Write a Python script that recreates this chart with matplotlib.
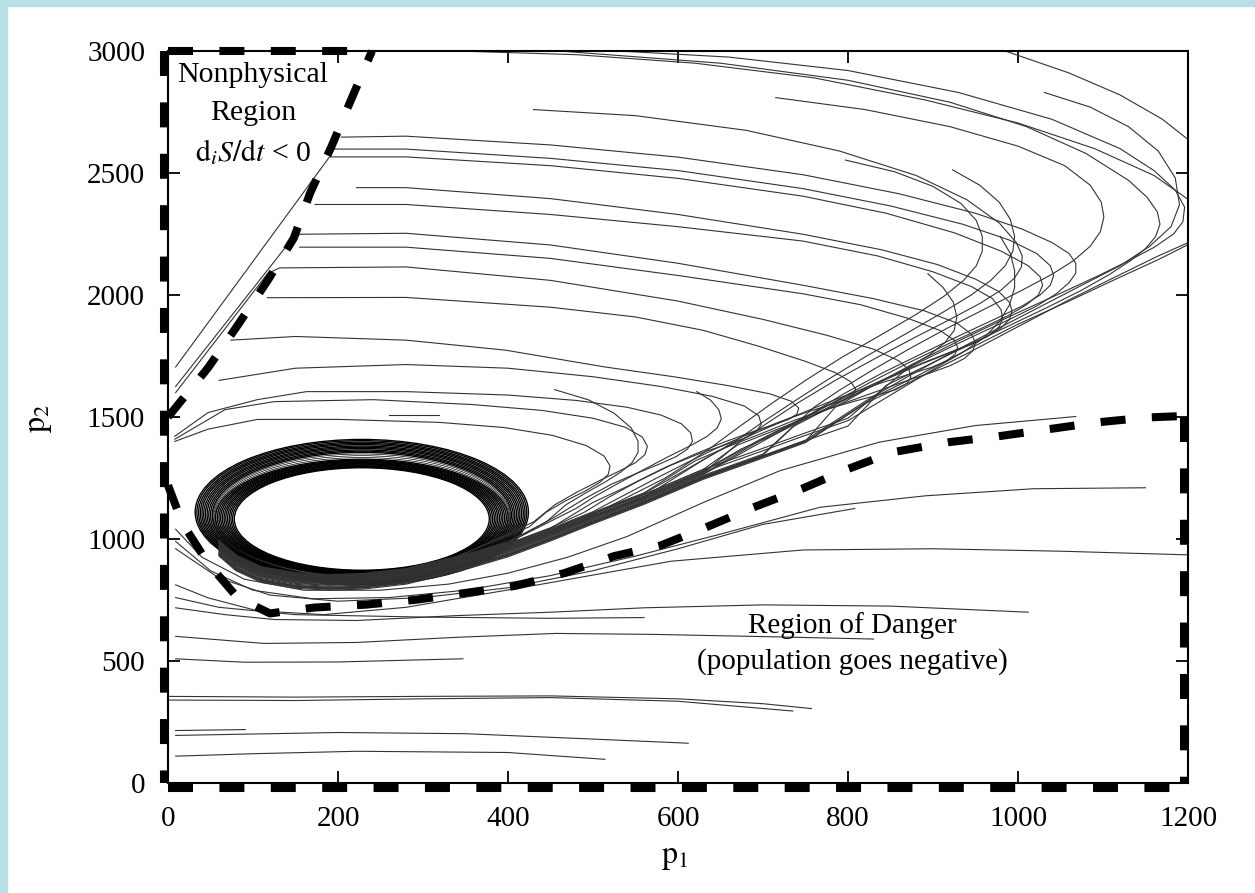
import matplotlib.pyplot as plt
import matplotlib.transforms as mtransforms
from matplotlib.lines import Line2D
from matplotlib.patches import Ellipse, Rectangle

plt.rcParams['font.family'] = ['Liberation Serif', 'DejaVu Serif']
plt.rcParams['mathtext.fontset'] = 'stix'

x_ticks = [0, 200, 400, 600, 800, 1000, 1200]
y_ticks = [0, 500, 1000, 1500, 2000, 2500, 3000]

# thick dashed boundaries
nonphys_x = [0, 47, 82, 117, 148, 167, 193, 214, 240]
nonphys_y = [1500, 1701, 1876, 2058, 2233, 2416, 2614, 2789, 3000]
danger_x = [0, 17, 47, 82, 120, 172, 233, 292, 350, 409, 467, 525, 580, 638, 689,
            746, 800, 853, 919, 977, 1034, 1093, 1152, 1200]
danger_y = [1220, 1064, 901, 759, 695, 719, 731, 751, 779, 808, 861, 930, 974, 1055, 1130,
            1206, 1287, 1356, 1397, 1421, 1449, 1478, 1498, 1505]

# common path of the returning trajectories (the funnel into the cycle)
funnel_x = [1200, 1100, 1000, 900, 800, 750, 700, 630, 560, 500, 450, 400, 340, 280, 230, 190, 150, 110, 80, 60]
funnel_y = [2100, 1910, 1740, 1600, 1485, 1425, 1362, 1275, 1172, 1092, 1022, 957, 895, 845, 825, 820, 828, 852, 900, 960]

# limit cycle rings
cycle_cx = [228] * 26
cycle_cy = [1082, 1082, 1083, 1083, 1084, 1085, 1085, 1086, 1087, 1087, 1088, 1089,
            1091, 1093, 1095,
            1097, 1098, 1099, 1101, 1102, 1103, 1105, 1106, 1107, 1109, 1110]
cycle_w = [300, 304, 308, 312, 316, 320, 324, 328, 332, 336, 340, 344,
           346, 348, 350,
           352, 356, 360, 364, 368, 372, 376, 380, 384, 388, 392]
cycle_h = [420, 425, 430, 435, 440, 445, 450, 455, 460, 465, 470, 476,
           486, 497, 507,
           516, 524, 532, 540, 548, 556, 564, 572, 580, 588, 596]
cycle_lw = [1.0] * 12 + [0.5] * 3 + [1.0] * 11

# trajectories that swing out and come back through the funnel
t0 = [(985, 3000), (1060, 2910), (1120, 2820), (1170, 2720), (1210, 2610), (1240, 2490), (1250, 2380),
      (1238, 2290), (1210, 2230), (1165, 2160), (1115, 2075), (1060, 1980), (1000, 1870), (940, 1760),
      (880, 1655), (820, 1555)]
t1 = [(340, 3000), (480, 2985), (620, 2950), (760, 2890), (890, 2800), (1000, 2705), (1090, 2600),
      (1160, 2490), (1205, 2380), (1220, 2290), (1205, 2215), (1165, 2145), (1115, 2065), (1060, 1975),
      (1000, 1880), (940, 1775), (885, 1675), (830, 1580)]
t1b = [(530, 3000), (660, 2975), (800, 2920), (930, 2830), (1040, 2720), (1120, 2600), (1160, 2510),
       (1185, 2430), (1196, 2360), (1194, 2300), (1183, 2250), (1160, 2195), (1130, 2140), (1095, 2080),
       (1055, 2015), (995, 1920), (935, 1820), (875, 1715), (825, 1620), (785, 1540)]
t2 = [(460, 3000), (650, 2950), (800, 2880), (920, 2790), (1010, 2690), (1080, 2580), (1130, 2470),
      (1152, 2400), (1164, 2340), (1167, 2290), (1162, 2240), (1150, 2190), (1132, 2140), (1108, 2085),
      (1075, 2020), (1035, 1950), (990, 1875), (945, 1800), (895, 1715), (845, 1630)]
n1 = [(1031, 2830), (1085, 2770), (1130, 2690), (1165, 2590), (1185, 2480), (1190, 2370), (1180, 2280),
      (1155, 2200), (1120, 2120), (1075, 2040), (1025, 1950), (975, 1860), (920, 1760), (870, 1665),
      (825, 1575)]
t3 = [(715, 2809), (820, 2760), (920, 2690), (1000, 2610), (1055, 2530), (1085, 2450), (1098, 2380),
      (1101, 2320), (1097, 2260), (1085, 2200), (1065, 2140), (1040, 2085), (1005, 2020), (965, 1950),
      (920, 1870), (875, 1785), (830, 1695), (790, 1610), (760, 1540)]
loop_a = [(204, 2647), (280, 2651), (450, 2615), (600, 2565), (747, 2493), (860, 2415), (950, 2335),
          (1005, 2270), (1040, 2215), (1060, 2170), (1068, 2130), (1068, 2090), (1060, 2050), (1045, 2005),
          (1022, 1955), (990, 1900), (950, 1835), (905, 1760), (855, 1675), (805, 1585), (760, 1505),
          (735, 1460)]
loop_b = [(190, 2598), (280, 2598), (450, 2560), (600, 2510), (747, 2436), (850, 2365), (935, 2290),
          (990, 2225), (1022, 2170), (1038, 2120), (1042, 2080), (1038, 2040), (1026, 2000), (1005, 1955),
          (975, 1905), (935, 1840), (890, 1765), (840, 1680), (795, 1595), (755, 1510), (720, 1440)]
loop_c = [(9, 1705), (190, 2566), (280, 2566), (450, 2530), (600, 2478), (747, 2405), (845, 2335),
          (925, 2255), (980, 2180), (1012, 2120), (1026, 2075), (1029, 2040), (1024, 2000), (1010, 1960),
          (988, 1915), (955, 1860), (915, 1795), (870, 1720), (825, 1640), (780, 1555), (740, 1480),
          (700, 1410)]
loop_e = [(430, 2760), (550, 2735), (680, 2675), (790, 2590), (880, 2490), (940, 2390), (978, 2295),
          (998, 2215), (1005, 2160), (1004, 2115), (996, 2070), (980, 2020), (955, 1965), (920, 1900),
          (878, 1825), (832, 1740), (785, 1650), (742, 1560), (705, 1475), (675, 1405)]
loop_k = [(923, 2513), (955, 2450), (978, 2380), (991, 2310), (996, 2240), (994, 2180), (985, 2120),
          (968, 2060), (945, 2000), (912, 1930), (870, 1845), (822, 1750), (777, 1655), (737, 1565),
          (700, 1480), (665, 1395), (630, 1325)]
n2 = [(979, 2241), (991, 2170), (996, 2100), (996, 2030), (990, 1960), (978, 1890), (960, 1825),
      (935, 1765), (905, 1705)]
loop_f = [(222, 2440), (280, 2440), (450, 2395), (600, 2330), (747, 2249), (840, 2185), (905, 2125),
          (950, 2065), (977, 2015), (990, 1970), (993, 1935), (990, 1900), (980, 1865), (963, 1828),
          (938, 1790), (905, 1745), (865, 1690), (820, 1620), (775, 1545), (735, 1475), (695, 1405)]
loop_g = [(173, 2371), (280, 2371), (450, 2330), (600, 2280), (747, 2221), (835, 2160), (900, 2095),
          (945, 2035), (970, 1985), (980, 1940), (982, 1905), (978, 1870), (966, 1835), (947, 1800),
          (920, 1763), (885, 1715), (842, 1650), (797, 1575), (752, 1495), (712, 1425), (675, 1370)]
loop_h = [(797, 2553), (855, 2505), (900, 2445), (933, 2375), (951, 2305), (958, 2240), (958, 2180),
          (951, 2120), (936, 2060), (913, 1995), (880, 1920), (838, 1835), (793, 1745), (750, 1650),
          (710, 1555), (672, 1460), (637, 1370), (605, 1295), (585, 1250)]
n3 = [(894, 2087), (912, 2030), (924, 1970), (928, 1910), (925, 1855), (914, 1805), (896, 1755),
      (872, 1705)]
loop_i = [(9, 1625), (144, 2221), (155, 2249), (280, 2253), (450, 2205), (600, 2130), (747, 2040),
          (830, 1985), (890, 1935), (928, 1885), (945, 1840), (950, 1805), (947, 1772), (937, 1740),
          (920, 1710), (896, 1680), (866, 1645), (830, 1600), (790, 1550), (750, 1495), (710, 1440),
          (670, 1385)]
loop_j = [(155, 2196), (280, 2196), (450, 2150), (600, 2080), (747, 2005), (815, 1960), (870, 1905),
          (908, 1855), (925, 1815), (929, 1785), (926, 1757), (916, 1730), (898, 1703), (873, 1676),
          (842, 1643), (806, 1600), (768, 1548), (729, 1492), (690, 1432), (655, 1375)]
loop_l = [(9, 1600), (117, 2087), (131, 2111), (280, 2115), (450, 2060), (600, 1975), (700, 1900),
          (775, 1835), (830, 1778), (860, 1730), (872, 1692), (874, 1663), (869, 1637), (856, 1612),
          (835, 1590), (808, 1565), (775, 1532), (738, 1488), (700, 1435), (660, 1380), (620, 1320)]
loop_m = [(117, 1989), (280, 1990), (450, 1950), (550, 1910), (630, 1855), (695, 1790), (750, 1728),
          (785, 1682), (803, 1645), (809, 1615), (806, 1592), (795, 1570), (776, 1547), (750, 1518),
          (718, 1478), (683, 1430), (647, 1375), (610, 1312), (575, 1250)]
loop_p = [(74, 1815), (150, 1830), (280, 1815), (397, 1774), (514, 1705), (595, 1665), (660, 1628),
          (708, 1595), (733, 1565), (742, 1537), (740, 1512), (730, 1490), (713, 1468), (688, 1440),
          (655, 1398), (618, 1345), (580, 1285), (540, 1215), (500, 1150)]
loop_s = [(60, 1650), (150, 1700), (280, 1715), (400, 1700), (500, 1665), (580, 1625), (640, 1585),
          (678, 1545), (695, 1505), (698, 1470), (692, 1440), (678, 1413), (655, 1385), (625, 1350),
          (590, 1300), (552, 1235), (518, 1170), (490, 1110)]
loop_la = [(8, 1421), (47, 1518), (105, 1571), (163, 1604), (280, 1604), (400, 1590), (480, 1568),
           (540, 1540), (580, 1508), (604, 1472), (615, 1435), (617, 1400), (611, 1368), (598, 1338),
           (578, 1307), (552, 1270), (522, 1225), (490, 1165), (455, 1090)]
loop_q = [(622, 1604), (638, 1570), (648, 1530), (651, 1492), (646, 1455), (634, 1420), (615, 1383),
          (590, 1340), (560, 1285), (528, 1225), (500, 1170), (480, 1125)]
loop_lb = [(8, 1409), (67, 1530), (125, 1563), (242, 1571), (358, 1551), (440, 1527), (500, 1495),
           (538, 1458), (558, 1418), (564, 1380), (561, 1345), (550, 1313), (532, 1280), (508, 1240),
           (480, 1190), (455, 1140), (430, 1070)]
loop_r = [(455, 1612), (495, 1570), (525, 1515), (545, 1455), (553, 1400), (553, 1355), (546, 1313),
          (533, 1275), (515, 1235), (492, 1190), (468, 1140), (445, 1070)]
loop_lc = [(8, 1400), (47, 1450), (105, 1490), (202, 1490), (319, 1478), (395, 1457), (452, 1425),
           (492, 1383), (513, 1340), (520, 1300), (518, 1265), (508, 1232), (490, 1195), (467, 1155),
           (445, 1110), (425, 1050)]

returning = [(t0, -30), (t1, -26), (t1b, -24), (t2, -22), (n1, -20), (t3, -18), (loop_a, -14),
             (loop_b, -10), (loop_c, -7), (loop_e, -4), (loop_k, -1), (n2, 0), (loop_f, 2), (loop_g, 5),
             (loop_h, 8), (n3, 10), (loop_i, 11), (loop_j, 14), (loop_l, 17), (loop_m, 20), (loop_p, 22),
             (loop_s, 24), (loop_la, 26), (loop_q, 28), (loop_lb, 30), (loop_r, 32), (loop_lc, 34)]

# trajectories in the lower part of the plane
u_a = [(9, 1040), (40, 925), (90, 835), (160, 790), (250, 790), (330, 815), (400, 860), (470, 925),
       (540, 1010), (630, 1150), (720, 1280), (837, 1397), (950, 1465), (1068, 1502)]
u_b = [(9, 990), (50, 870), (100, 790), (170, 755), (260, 760), (350, 790), (450, 850), (550, 930),
       (650, 1020), (767, 1130), (891, 1177), (1018, 1206), (1150, 1210)]
u_c = [(9, 960), (60, 840), (120, 770), (200, 745), (300, 760), (400, 800), (500, 870), (600, 960),
       (700, 1060), (808, 1125)]
u_d = [(9, 812), (47, 759), (105, 706), (183, 690), (280, 720), (435, 812), (592, 909), (747, 955),
       (900, 960), (1050, 950), (1200, 935)]
u_e = [(9, 718), (67, 690), (125, 670), (222, 666), (339, 686), (450, 700), (560, 718), (700, 730),
       (850, 725), (1012, 700)]
u_f = [(9, 760), (60, 720), (150, 690), (300, 680), (450, 675), (560, 678)]
low_a = [(9, 601), (113, 572), (222, 576), (339, 597), (456, 613), (572, 609), (700, 600), (830, 590)]
low_b = [(9, 509), (90, 495), (200, 496), (300, 505), (347, 509)]
low_c1 = [(0, 355), (150, 352), (300, 355), (450, 357), (600, 345), (700, 325), (757, 305)]
low_c2 = [(0, 340), (150, 338), (300, 345), (450, 350), (600, 335), (735, 295)]
low_d = [(9, 215), (91, 219)]
low_e = [(9, 195), (200, 207), (350, 202), (500, 180), (612, 163)]
low_f = [(9, 110), (100, 120), (222, 130), (400, 125), (514, 97)]
short_top = [(260, 1510), (319, 1510)]
others = [u_a, u_b, u_c, u_d, u_e, u_f, low_a, low_b, low_c1, low_c2, low_d, low_e, low_f, short_top]

line_col = '#333333'
line_w = 0.8


def with_tail(pts, lane):
    last_x = pts[-1][0]
    tail = [(x, y + lane) for x, y in zip(funnel_x, funnel_y) if x < last_x - 30]
    return pts + tail


fig = plt.figure(figsize=(12.55, 8.93), dpi=100)
fig.add_artist(Rectangle((0, 1 - 6 / 893), 1, 6 / 893, transform=fig.transFigure,
                         color='#b8dfe5', zorder=0))
fig.add_artist(Rectangle((0, 0), 7 / 1255, 1, transform=fig.transFigure,
                         color='#b8dfe5', zorder=0))

ax = fig.add_axes([168 / 1255, 1 - 783 / 893, 1020 / 1255, 732 / 893])

for pts, lane in returning:
    full = with_tail(pts, lane)
    xs, ys = zip(*full)
    ax.plot(xs, ys, color=line_col, lw=line_w)

for pts in others:
    xs, ys = zip(*pts)
    ax.plot(xs, ys, color=line_col, lw=line_w)

for cx, cy, w, h, lw in zip(cycle_cx, cycle_cy, cycle_w, cycle_h, cycle_lw):
    ax.add_patch(Ellipse((cx, cy), w, h, fill=False, ec='black', lw=lw))

# thick dashed boundaries
lw_b = 5.8
dash = (18 / lw_b, 19 / lw_b)
ax.plot(nonphys_x, nonphys_y, color='black', lw=lw_b, dashes=dash, clip_on=False, zorder=5)
ax.plot(danger_x, danger_y, color='black', lw=lw_b, dashes=dash, clip_on=False, zorder=5)

left_tr = mtransforms.offset_copy(ax.transAxes, fig=fig, x=-4, y=0, units='dots')
bottom_tr = mtransforms.offset_copy(ax.transAxes, fig=fig, x=0, y=-4.5, units='dots')
right_tr = mtransforms.offset_copy(ax.transAxes, fig=fig, x=-4, y=0, units='dots')
top_tr = mtransforms.blended_transform_factory(ax.transData, ax.transAxes)
ax.add_line(Line2D([0, 0], [1, 0], transform=left_tr, color='black', lw=lw_b,
                   dashes=dash, clip_on=False, zorder=5))
ax.add_line(Line2D([0, 1], [0, 0], transform=bottom_tr, color='black', lw=lw_b,
                   dashes=dash, clip_on=False, zorder=5))
ax.add_line(Line2D([1, 1], [0.5, 0], transform=right_tr, color='black', lw=lw_b,
                   dashes=dash, clip_on=False, zorder=5))
ax.add_line(Line2D([0, 240], [1, 1], transform=top_tr, color='black', lw=lw_b,
                   dashes=dash, clip_on=False, zorder=5))

ax.set_xlim(0, 1200)
ax.set_ylim(0, 3000)
ax.set_xticks(x_ticks)
ax.set_yticks(y_ticks)
ax.tick_params(direction='in', length=8.5, width=1.3, top=True, right=True,
               labelsize=21, pad=16.5)
for sp in ax.spines.values():
    sp.set_linewidth(1.5)

ax.text(100, 2901, 'Nonphysical', fontsize=21.5, ha='center', va='center')
ax.text(100, 2746, 'Region', fontsize=21.5, ha='center', va='center')
ax.text(100, 2586, r'$\mathrm{d}_{i}S/\mathrm{d}t$ < 0', fontsize=21.5, ha='center', va='center')
ax.text(805, 647, 'Region of Danger', fontsize=21, ha='center', va='center')
ax.text(805, 496, '(population goes negative)', fontsize=21, ha='center', va='center')

fig.text(675 / 1255, 1 - 858 / 893, r'$\mathrm{p}_1$', fontsize=23, ha='center', va='center')
fig.text(40 / 1255, 1 - 418 / 893, r'$\mathrm{p}_2$', fontsize=23, ha='center', va='center',
         rotation=90)

fig.savefig('out.png', dpi=100)
